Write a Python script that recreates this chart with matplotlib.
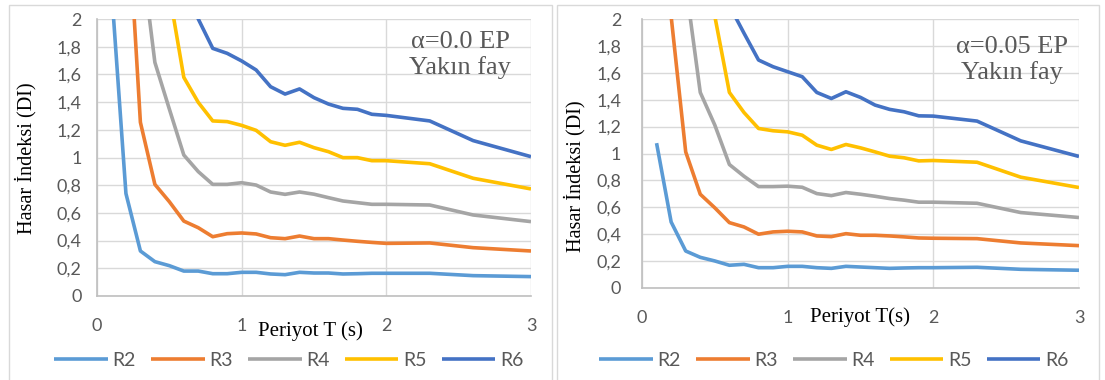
import matplotlib.pyplot as plt
from matplotlib.patches import Rectangle
from matplotlib.ticker import FuncFormatter

# period values (s)
T = [0.1, 0.2, 0.3, 0.4, 0.5, 0.6, 0.7, 0.8, 0.9, 1.0,
     1.1, 1.2, 1.3, 1.4, 1.5, 1.6, 1.7, 1.8, 1.9, 2.0,
     2.3, 2.6, 3.0]
names = ['R2', 'R3', 'R4', 'R5', 'R6']

# alpha = 0.0
R2_a = [2.22, 0.74, 0.325, 0.248, 0.219, 0.18, 0.18, 0.161, 0.161, 0.171, 0.171, 0.159,
        0.154, 0.171, 0.166, 0.166, 0.159, 0.161, 0.164, 0.164, 0.164, 0.147, 0.14]
R3_a = [4.5, 3.01, 1.254, 0.806, 0.681, 0.541, 0.493, 0.428, 0.45, 0.455, 0.448, 0.421,
        0.414, 0.433, 0.414, 0.414, 0.404, 0.395, 0.387, 0.38, 0.383, 0.349, 0.325]
R4_a = [5.0, 3.6, 2.53, 1.687, 1.35, 1.018, 0.898, 0.806, 0.806, 0.818, 0.801, 0.751,
        0.734, 0.751, 0.735, 0.71, 0.686, 0.674, 0.662, 0.662, 0.657, 0.585, 0.537]
R5_a = [6.0, 4.5, 3.5, 2.7, 2.19, 1.579, 1.398, 1.264, 1.259, 1.232, 1.196, 1.114,
        1.088, 1.11, 1.071, 1.042, 0.999, 0.999, 0.977, 0.977, 0.955, 0.85, 0.773]
R6_a = [7.0, 5.5, 4.3, 3.4, 2.8, 2.4, 2.0, 1.788, 1.752, 1.697, 1.632, 1.511,
        1.458, 1.495, 1.432, 1.386, 1.355, 1.348, 1.312, 1.304, 1.264, 1.122, 1.006]

# alpha = 0.05
R2_b = [1.077, 0.491, 0.275, 0.228, 0.201, 0.169, 0.176, 0.151, 0.151, 0.161, 0.161, 0.151,
        0.146, 0.161, 0.156, 0.151, 0.146, 0.149, 0.151, 0.151, 0.154, 0.139, 0.132]
R3_b = [4.0, 2.02, 1.012, 0.697, 0.596, 0.486, 0.454, 0.4, 0.417, 0.422, 0.417, 0.387,
        0.382, 0.404, 0.392, 0.392, 0.387, 0.38, 0.372, 0.37, 0.367, 0.335, 0.315]
R4_b = [4.5, 3.2, 2.26, 1.454, 1.211, 0.918, 0.831, 0.754, 0.754, 0.757, 0.749, 0.702,
        0.687, 0.71, 0.697, 0.682, 0.665, 0.653, 0.638, 0.638, 0.63, 0.561, 0.524]
R5_b = [5.0, 3.8, 2.9, 2.4, 2.02, 1.454, 1.305, 1.186, 1.169, 1.161, 1.136, 1.062,
        1.03, 1.067, 1.042, 1.012, 0.98, 0.968, 0.945, 0.948, 0.935, 0.824, 0.747]
R6_b = [6.5, 5.0, 3.9, 3.1, 2.5, 2.1, 1.895, 1.695, 1.645, 1.608, 1.571, 1.454,
        1.409, 1.459, 1.417, 1.36, 1.328, 1.31, 1.28, 1.278, 1.241, 1.094, 0.978]

colors = ['#5B9BD5', '#ED7D31', '#A5A5A5', '#FFC000', '#4472C4']
xticks = [0, 1, 2, 3]
yticks = [0, 0.2, 0.4, 0.6, 0.8, 1, 1.2, 1.4, 1.6, 1.8, 2]

plt.rcParams['font.family'] = 'Lato'
W, H = 1105, 380
fig = plt.figure(figsize=(W / 100, H / 100), dpi=100)

# chart frames
for x0, x1 in [(9, 552), (557, 1099)]:
    fig.patches.append(Rectangle((x0 / W, -0.05), (x1 - x0) / W, 1.05 - 5 / H,
                                 transform=fig.transFigure, fill=False,
                                 edgecolor='#D9D9D9', lw=1))

comma = FuncFormatter(lambda v, p: ('%g' % v).replace('.', ','))


def panel(box, data, ypad, note, note_xy, xlab, xlab_xy, ylab_xy, leg_xy):
    l, t, r, b = box
    ax = fig.add_axes([l / W, 1 - b / H, (r - l) / W, (b - t) / H])
    lines = []
    for vals, c, n in zip(data, colors, names):
        ln, = ax.plot(T, vals, color=c, lw=2.6, label=n, solid_capstyle='butt')
        lines.append(ln)
    ax.set_xlim(0, 3)
    ax.set_ylim(0, 2)
    ax.set_xticks(xticks)
    ax.set_yticks(yticks)
    ax.yaxis.set_major_formatter(comma)
    ax.grid(color='#D9D9D9', lw=1)
    ax.set_axisbelow(True)
    for s in ['top', 'right']:
        ax.spines[s].set_visible(False)
    for s in ['left', 'bottom']:
        ax.spines[s].set_color('#BFBFBF')
        ax.spines[s].set_linewidth(1.2)
    ax.tick_params(axis='x', length=0, pad=16, labelsize=13, labelcolor='#595959')
    ax.tick_params(axis='y', length=0, pad=ypad, labelsize=13, labelcolor='#595959')
    fig.text(note_xy[0] / W, 1 - note_xy[1] / H, note, ha='center', va='center',
             family='Liberation Serif', fontsize=19, color='#595959', linespacing=1.2)
    fig.text(xlab_xy[0] / W, 1 - xlab_xy[1] / H, xlab, ha='center', va='center',
             family='Liberation Serif', fontsize=15)
    fig.text(ylab_xy[0] / W, 1 - ylab_xy[1] / H, 'Hasar İndeksi (DI)', ha='center',
             va='center', rotation=90, family='Liberation Serif', fontsize=14.6)
    fig.legend(handles=lines, loc='center', bbox_to_anchor=(leg_xy[0] / W, 1 - leg_xy[1] / H),
               ncol=5, frameon=False, fontsize=14, handlelength=2.75, handletextpad=0.26,
               columnspacing=0.77, labelcolor='#595959')


panel((97, 19, 531, 296), [R2_a, R3_a, R4_a, R5_a, R6_a], 11,
      'α=0.0 EP\nYakın fay', (460, 55), 'Periyot T (s)', (310, 331), (26, 158), (289, 360))
panel((642, 19, 1079, 288), [R2_b, R3_b, R4_b, R5_b, R6_b], 15,
      'α=0.05 EP\nYakın fay', (1012, 60), 'Periyot T(s)', (860, 317), (575, 176), (834, 360))

fig.savefig('out.png', dpi=100)
